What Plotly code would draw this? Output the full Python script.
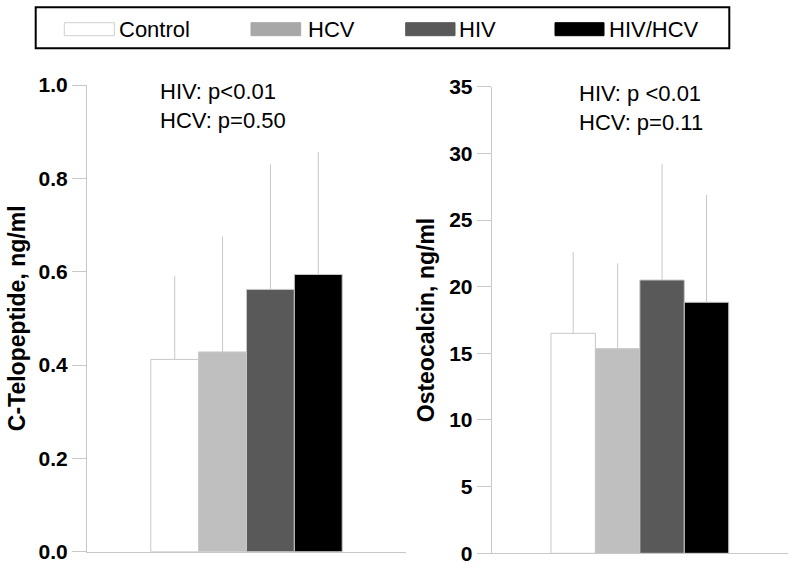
import plotly.graph_objects as go

groups = ["Control", "HCV", "HIV", "HIV/HCV"]
bar_colors = ["#ffffff", "#bfbfbf", "#595959", "#000000"]
legend_colors = ["#ffffff", "#a8a8a8", "#595959", "#000000"]

ctx_mean = [0.412, 0.428, 0.562, 0.594]
ctx_sd = [0.179, 0.247, 0.268, 0.262]
oc_mean = [16.5, 15.35, 20.5, 18.83]
oc_sd = [6.1, 6.4, 8.7, 8.07]

ctx_ticks = [0.0, 0.2, 0.4, 0.6, 0.8, 1.0]
ctx_ticktext = ["0.0", "0.2", "0.4", "0.6", "0.8", "1.0"]
oc_ticks = [0, 5, 10, 15, 20, 25, 30, 35]

ctx_note = "HIV: p<0.01<br>HCV: p=0.50"
oc_note = "HIV: p <0.01<br>HCV: p=0.11"

W, H = 795, 569
FONT = "Liberation Sans, Arial, sans-serif"
GRAY = "#c8c8c8"

def px(x):
    return x / W

def py(y):
    return 1 - y / H

fig = go.Figure()
for i, g in enumerate(groups):
    fig.add_trace(go.Bar(
        x=[""], y=[ctx_mean[i]], name=g, xaxis="x", yaxis="y",
        marker=dict(color=bar_colors[i], line=dict(color=GRAY, width=1)),
        error_y=dict(type="data", symmetric=False, array=[ctx_sd[i]], arrayminus=[0],
                     color=GRAY, thickness=1, width=0),
        showlegend=False))
for i, g in enumerate(groups):
    fig.add_trace(go.Bar(
        x=[""], y=[oc_mean[i]], name=g, xaxis="x2", yaxis="y2",
        marker=dict(color=bar_colors[i], line=dict(color=GRAY, width=1)),
        error_y=dict(type="data", symmetric=False, array=[oc_sd[i]], arrayminus=[0],
                     color=GRAY, thickness=1, width=0),
        showlegend=False))

axis_common = dict(showgrid=False, zeroline=False, showline=True, linecolor=GRAY, linewidth=1,
                   automargin=False)
yaxis_common = dict(axis_common, ticks="outside", ticklen=14, tickcolor=GRAY, tickwidth=1,
                    tickfont=dict(family=FONT, size=21, color="black", weight="bold"),
                    title_font=dict(family=FONT, size=23, color="black", weight="bold"))

fig.update_layout(
    width=W, height=H,
    margin=dict(l=0, r=0, t=0, b=0, pad=0),
    paper_bgcolor="white", plot_bgcolor="white",
    barmode="group", bargap=0.4, bargroupgap=0,
    font=dict(family=FONT, color="black"),
    xaxis=dict(axis_common, domain=[px(87), px(406)], showticklabels=False, ticks="",
               anchor="y"),
    yaxis=dict(yaxis_common, domain=[py(551.7), py(85)], range=[0, 1.0],
               tickvals=ctx_ticks, ticktext=ctx_ticktext, anchor="x",
               title=dict(text="C-Telopeptide, ng/ml", standoff=6)),
    xaxis2=dict(axis_common, domain=[px(491.7), px(788)], showticklabels=False, ticks="",
                anchor="y2"),
    yaxis2=dict(yaxis_common, domain=[py(553.3), py(86.7)], range=[0, 35],
                tickvals=oc_ticks, anchor="x2",
                title=dict(text="Osteocalcin, ng/ml", standoff=8)),
)

fig.add_annotation(x=px(158.3), y=py(77), xref="paper", yref="paper",
                   xanchor="left", yanchor="top", align="left", showarrow=False,
                   text=ctx_note, font=dict(family=FONT, size=22, color="black"))
fig.add_annotation(x=px(576.7), y=py(79), xref="paper", yref="paper",
                   xanchor="left", yanchor="top", align="left", showarrow=False,
                   text=oc_note, font=dict(family=FONT, size=22, color="black"))

# Legend box
fig.add_shape(type="rect", xref="paper", yref="paper",
              x0=px(35.7), x1=px(729.3), y0=py(48.3), y1=py(7.3),
              line=dict(color="black", width=2), fillcolor="rgba(0,0,0,0)")
sw_x0 = [64.3, 251, 405.7, 555]
sw_x1 = [114.3, 300.7, 455, 604]
txt_x = [116.7, 305.7, 457, 607.3]
for i, g in enumerate(groups):
    fig.add_shape(type="rect", xref="paper", yref="paper",
                  x0=px(sw_x0[i]), x1=px(sw_x1[i]), y0=py(35.7), y1=py(22.7),
                  line=dict(color="#d0d0d0" if i == 0 else legend_colors[i], width=1),
                  fillcolor=legend_colors[i])
    fig.add_annotation(x=px(txt_x[i]), y=py(30), xref="paper", yref="paper",
                       xanchor="left", yanchor="middle", showarrow=False,
                       text=g, font=dict(family=FONT, size=22, color="black"))

fig.write_html("out.html",
               config={"displayModeBar": False},
               post_script="document.body.style.margin='0';document.body.style.overflow='hidden';")
